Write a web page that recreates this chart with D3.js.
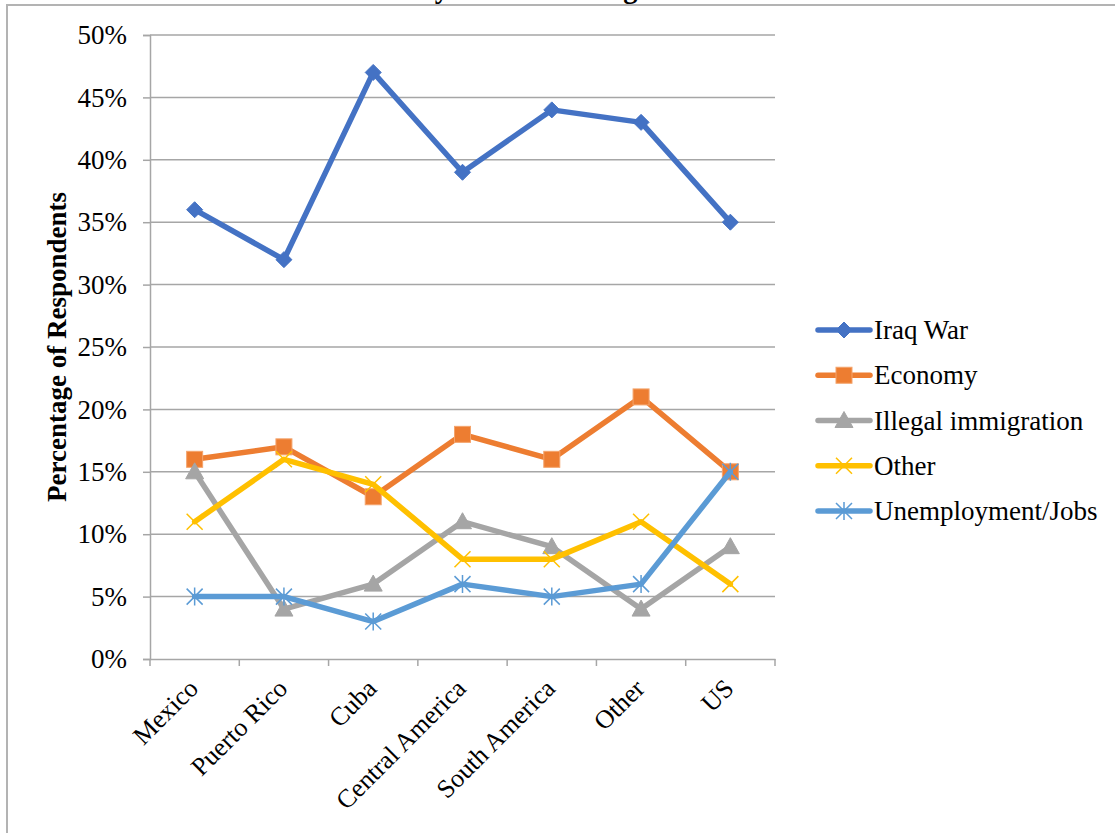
<!DOCTYPE html>
<html>
<head>
<meta charset="utf-8">
<script src="https://cdn.jsdelivr.net/npm/d3@7"></script>
<style>
  body { margin: 0; background: #fff; }
  svg { display: block; }
  svg text { font-family: "Liberation Serif", "Times New Roman", serif; }
</style>
</head>
<body>
<div id="chart"></div>
<script>
// data
var categories = ["Mexico", "Puerto Rico", "Cuba", "Central America", "South America", "Other", "US"];
var seriesNames = ["Iraq War", "Economy", "Illegal immigration", "Other", "Unemployment/Jobs"];
var iraqWar = [36, 32, 47, 39, 44, 43, 35];
var economy = [16, 17, 13, 18, 16, 21, 15];
var illegalImmigration = [15, 4, 6, 11, 9, 4, 9];
var other = [11, 16, 14, 8, 8, 11, 6];
var unemployment = [5, 5, 3, 6, 5, 6, 15];
var yTicks = [0, 5, 10, 15, 20, 25, 30, 35, 40, 45, 50];

var colors = ["#4472c4", "#ed7d31", "#a5a5a5", "#ffc000", "#5b9bd5"];
var markerTypes = ["diamond", "square", "triangle", "x", "star"];
var series = [iraqWar, economy, illegalImmigration, other, unemployment].map(function(v, i) {
  return { name: seriesNames[i], values: v, color: colors[i], marker: markerTypes[i] };
});

var W = 1115, H = 833;
var svg = d3.select("#chart").append("svg").attr("width", W).attr("height", H);

// outer chart frame (bottom/right run off the page)
svg.append("rect").attr("x", 7).attr("y", 5).attr("width", 1200).attr("height", 900)
  .attr("fill", "none").attr("stroke", "#b3b3b3").attr("stroke-width", 2);

// title, mostly clipped off the top like in the original
svg.append("text").attr("x", 339).attr("y", -2)
  .style("font-size", "28.5px").style("font-weight", "bold")
  .text("Issues by Latino Heritage");

var x0 = 150, x1 = 775, yTop = 35, yBot = 659;
var x = d3.scaleBand().domain(categories).range([x0, x1]);
var y = d3.scaleLinear().domain([0, 50]).range([yBot, yTop]);

// gridlines
svg.append("g").selectAll("line").data(yTicks.slice(1)).join("line")
  .attr("x1", x0).attr("x2", x1)
  .attr("y1", function(d) { return y(d); }).attr("y2", function(d) { return y(d); })
  .attr("stroke", "#a6a6a6").attr("stroke-width", 1.5);

// y axis
var yAxis = svg.append("g").attr("transform", "translate(" + x0 + ",0)")
  .call(d3.axisLeft(y).tickValues(yTicks).tickSize(7).tickPadding(16)
    .tickFormat(function(d) { return d + "%"; }));
yAxis.select(".domain").attr("stroke", "#a6a6a6").attr("stroke-width", 1.5);
yAxis.selectAll(".tick line").attr("stroke", "#a6a6a6").attr("stroke-width", 1.5);
yAxis.selectAll(".tick text").style("font-size", "27px").attr("fill", "#000");

// x axis
var xAxis = svg.append("g").attr("transform", "translate(0," + yBot + ")")
  .call(d3.axisBottom(x).tickSize(0).tickPadding(0));
xAxis.select(".domain").attr("stroke", "#a6a6a6").attr("stroke-width", 1.5);
xAxis.selectAll(".tick text")
  .style("font-size", "26px").attr("fill", "#000")
  .attr("text-anchor", "end").attr("dy", 0).attr("y", 0)
  .attr("transform", "translate(5,31) rotate(-45)");
// category boundary ticks
svg.append("g").selectAll("line").data(d3.range(categories.length + 1)).join("line")
  .attr("x1", function(i) { return x0 + i * x.step(); })
  .attr("x2", function(i) { return x0 + i * x.step(); })
  .attr("y1", yBot).attr("y2", yBot + 7)
  .attr("stroke", "#a6a6a6").attr("stroke-width", 1.5);

// y label
svg.append("text").attr("transform", "translate(66," + ((yTop + yBot) / 2) + ") rotate(-90)")
  .attr("text-anchor", "middle").style("font-size", "27px").style("font-weight", "bold")
  .text("Percentage of Respondents");

function cx(i) { return x(categories[i]) + x.bandwidth() / 2; }

function drawMarker(g, type, px, py, color) {
  if (type === "diamond") {
    g.append("path").attr("d", "M" + px + "," + (py - 8) + "L" + (px + 8) + "," + py + "L" + px + "," + (py + 8) + "L" + (px - 8) + "," + py + "Z")
      .attr("fill", color).attr("stroke", color);
  } else if (type === "square") {
    g.append("rect").attr("x", px - 8).attr("y", py - 8).attr("width", 16).attr("height", 16)
      .attr("fill", color).attr("stroke", "#f4a46c").attr("stroke-width", 1);
  } else if (type === "triangle") {
    g.append("path").attr("d", "M" + px + "," + (py - 9) + "L" + (px + 9) + "," + (py + 7) + "L" + (px - 9) + "," + (py + 7) + "Z")
      .attr("fill", color).attr("stroke", color);
  } else if (type === "x") {
    g.append("path").attr("d", "M" + (px - 8) + "," + (py - 8) + "L" + (px + 8) + "," + (py + 8) + "M" + (px + 8) + "," + (py - 8) + "L" + (px - 8) + "," + (py + 8))
      .attr("stroke", color).attr("stroke-width", 1.5).attr("fill", "none");
  } else if (type === "star") {
    g.append("path").attr("d", "M" + (px - 8) + "," + (py - 8) + "L" + (px + 8) + "," + (py + 8) + "M" + (px + 8) + "," + (py - 8) + "L" + (px - 8) + "," + (py + 8) + "M" + px + "," + (py - 9) + "L" + px + "," + (py + 9))
      .attr("stroke", color).attr("stroke-width", 1.5).attr("fill", "none");
  }
}

var line = d3.line().x(function(d, i) { return cx(i); }).y(function(d) { return y(d); });

series.forEach(function(s) {
  var g = svg.append("g");
  g.append("path").datum(s.values).attr("d", line)
    .attr("fill", "none").attr("stroke", s.color).attr("stroke-width", 5.5)
    .attr("stroke-linejoin", "round").attr("stroke-linecap", "round");
  s.values.forEach(function(v, i) { drawMarker(g, s.marker, cx(i), y(v), s.color); });
});

// legend
var legY = d3.scalePoint().domain(seriesNames).range([330, 511]);
series.forEach(function(s) {
  var g = svg.append("g");
  var ly = legY(s.name);
  g.append("line").attr("x1", 818).attr("x2", 870).attr("y1", ly).attr("y2", ly)
    .attr("stroke", s.color).attr("stroke-width", 5.5).attr("stroke-linecap", "round");
  drawMarker(g, s.marker, 844, ly, s.color);
  g.append("text").attr("x", 874).attr("y", ly + 9).style("font-size", "27px").text(s.name);
});
</script>
</body>
</html>
